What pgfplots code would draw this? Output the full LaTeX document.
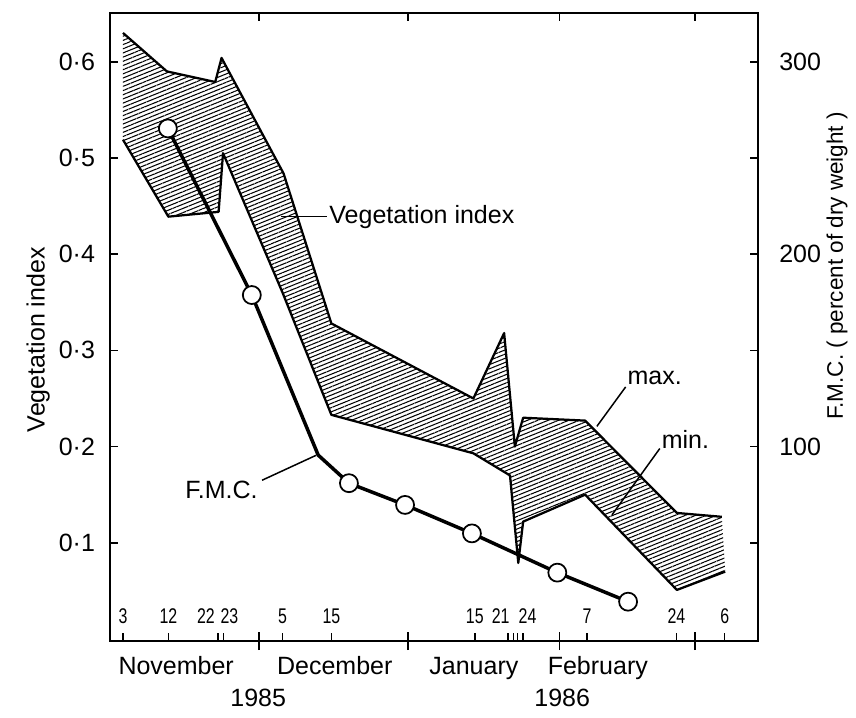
\documentclass[border=0pt]{standalone}
\usepackage{fontspec}
\setmainfont{Liberation Sans}
\usepackage{pgfplots}
\pgfplotsset{compat=1.18}
\usetikzlibrary{patterns.meta}

\begin{document}
\begin{tikzpicture}
\useasboundingbox (-44pt,-30.4pt) rectangle (298.4pt,256.4pt);
\begin{axis}[
  at={(0pt,0pt)}, anchor=south west,
  scale only axis, width=259.2pt, height=251.2pt,
  xmin=0.34, xmax=133.12, ymin=-0.0021, ymax=0.6507,
  clip=false,
  axis line style={line width=0.8pt},
  every tick/.style={black, line width=0.6pt},
  tick align=inside,
  xtick pos=bottom, ytick pos=left,
  xtick={3,12.3,22.5,23.6,35.7,45.7,75.1,81.9,83.0,83.8,85.0,98.1,116.4,126.3},
  xticklabels={},
  extra x ticks={30.9,61.4,92.4,120.2},
  extra x tick labels={},
  extra x tick style={tick align=center, major tick length=7.2pt},
  major tick length=3.4pt,
  ytick={0.1,0.2,0.3,0.4,0.5,0.6},
  yticklabels={0·1,0·2,0·3,0·4,0·5,0·6},
  yticklabel style={font=\fontsize{10}{12}\selectfont, xshift=-2.5pt},
]
% vegetation index band (max forward, min backward)
\addplot[draw=none, mark=none, pattern={Lines[angle=22,distance=1.55pt,line width=0.42pt]}] coordinates {
 (3.0,0.630) (12.0,0.590) (21.9,0.579) (23.2,0.604) (35.9,0.484) (45.7,0.328)
 (74.8,0.250) (81.1,0.318) (83.3,0.200) (85.0,0.230) (97.7,0.227) (116.5,0.131) (125.7,0.127)
 (126.4,0.070) (116.5,0.051) (97.7,0.150) (85.0,0.122) (84.0,0.079) (82.3,0.170)
 (74.8,0.193) (45.7,0.233) (35.7,0.360) (23.5,0.505) (22.6,0.444) (12.3,0.439) (3.0,0.519)
};
% max.
\addplot[line width=0.9pt, mark=none, line join=round] coordinates {
 (3.0,0.630) (12.0,0.590) (21.9,0.579) (23.2,0.604) (35.9,0.484) (45.7,0.328)
 (74.8,0.250) (81.1,0.318) (83.3,0.200) (85.0,0.230) (97.7,0.227) (116.5,0.131) (125.7,0.127)
};
% min.
\addplot[line width=0.9pt, mark=none, line join=round] coordinates {
 (3.0,0.519) (12.3,0.439) (22.6,0.444) (23.5,0.505) (35.7,0.360) (45.7,0.233)
 (74.8,0.193) (82.3,0.170) (84.0,0.079) (85.0,0.122) (97.7,0.150) (116.5,0.051) (126.4,0.070)
};
% date labels inside the axis
\begin{scope}[every node/.style={font=\fontsize{8.5}{9}\selectfont\addfontfeature{FakeStretch=0.75}, inner sep=0pt, anchor=base}]
\node at (axis cs:3,0.016) {3};
\node at (axis cs:12.3,0.016) {12};
\node at (axis cs:20.0,0.016) {22};
\node at (axis cs:24.8,0.016) {23};
\node at (axis cs:35.7,0.016) {5};
\node at (axis cs:45.7,0.016) {15};
\node at (axis cs:75.1,0.016) {15};
\node at (axis cs:80.4,0.016) {21};
\node at (axis cs:85.9,0.016) {24};
\node at (axis cs:98.1,0.016) {7};
\node at (axis cs:116.4,0.016) {24};
\node at (axis cs:126.3,0.016) {6};
\end{scope}
% month and year labels
\begin{scope}[every node/.style={font=\fontsize{10}{12}\selectfont, inner sep=0pt}]
\node[anchor=base] at (axis cs:13.9,-0.0374) {November};
\node[anchor=base] at (axis cs:46.4,-0.0374) {December};
\node[anchor=base] at (axis cs:74.9,-0.0374) {January};
\node[anchor=base] at (axis cs:100.3,-0.0374) {February};
\node[anchor=base] at (axis cs:30.7,-0.0705) {1985};
\node[anchor=base] at (axis cs:93.0,-0.0705) {1986};
\node[rotate=90] at (axis cs:-14.4,0.311) {Vegetation index};
% annotations
\draw[line width=0.6pt] (axis cs:35.4,0.439) -- (axis cs:44.8,0.439);
\node[anchor=west] at (axis cs:45.2,0.439) {Vegetation index};
\draw[line width=0.6pt] (axis cs:100.1,0.221) -- (axis cs:106.0,0.262);
\node[anchor=west] at (axis cs:106.3,0.271) {max.};
\draw[line width=0.6pt] (axis cs:103.2,0.129) -- (axis cs:113.0,0.198);
\node[anchor=west] at (axis cs:113.3,0.207) {min.};
\draw[line width=0.6pt] (axis cs:31.5,0.165) -- (axis cs:42.6,0.191);
\node[anchor=east] at (axis cs:30.7,0.155) {F.M.C.};
\end{scope}
\end{axis}

\begin{axis}[
  at={(0pt,0pt)}, anchor=south west,
  scale only axis, width=259.2pt, height=251.2pt,
  xmin=0.34, xmax=133.12, ymin=-1.04, ymax=325.4,
  clip=false,
  axis line style={line width=0.8pt},
  every tick/.style={black, line width=0.6pt},
  tick align=inside,
  xtick pos=top, ytick pos=right,
  xtick={30.9,61.4,92.4,120.2},
  xticklabels={},
  major tick length=3.4pt,
  ytick={50,100,150,200,250,300},
  yticklabels={,100,,200,,300},
  yticklabel style={font=\fontsize{10}{12}\selectfont, xshift=5pt},
]
\addplot[line width=1.4pt, line join=round, mark=*, mark indices={1,2,4,5,6,7,8},
  mark size=3.6pt, mark options={fill=white, draw=black, line width=0.7pt, solid}] coordinates {
 (12.2,265.4) (29.4,178.8) (43.0,95.6) (49.3,81.0) (60.8,69.7) (74.5,54.9) (92.0,34.5) (106.5,19.4)
};
\node[rotate=90, font=\fontsize{9}{11}\selectfont, inner sep=0pt] at (axis cs:149.3,194.0) {F.M.C.  ( percent of dry weight )};
\end{axis}
\end{tikzpicture}
\end{document}
